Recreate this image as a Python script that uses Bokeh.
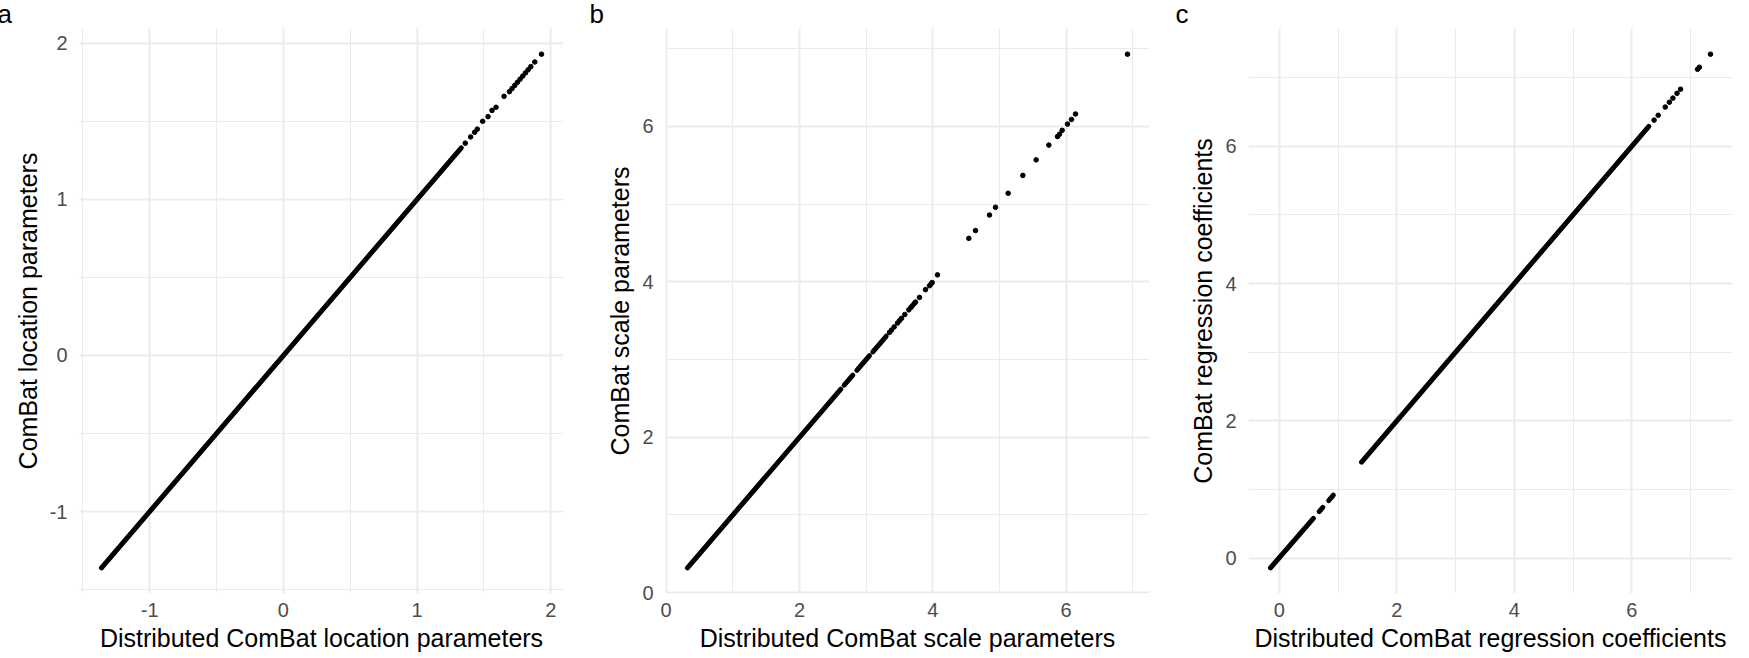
from bokeh.plotting import figure
from bokeh.layouts import row
from bokeh.models import Range1d, FixedTicker
from bokeh.embed import file_html
from bokeh.resources import INLINE

# ---------------- data ----------------
# Panel a: location parameters (dense run drawn as a thick stroke, sparse points as dots)
a_run_x0 = [-1.36]
a_run_x1 = [1.33]
a_run_y0 = [-1.36]
a_run_y1 = [1.33]
a_dot_x = [1.36, 1.40, 1.43, 1.45, 1.49, 1.53, 1.56, 1.59, 1.65, 1.69, 1.71,
           1.73, 1.75, 1.77, 1.79, 1.81, 1.83, 1.85, 1.88, 1.93]
a_dot_y = [1.36, 1.40, 1.43, 1.45, 1.50, 1.53, 1.57, 1.59, 1.66, 1.69, 1.71,
           1.73, 1.75, 1.77, 1.79, 1.81, 1.83, 1.85, 1.88, 1.93]

# Panel b: scale parameters
b_run_x0 = [0.32, 2.67, 2.86, 3.10]
b_run_x1 = [2.62, 2.80, 3.05, 3.30]
b_run_y0 = [0.32, 2.67, 2.86, 3.10]
b_run_y1 = [2.62, 2.80, 3.05, 3.30]
b_dot_x = [3.35, 3.38, 3.42, 3.47, 3.50, 3.53, 3.58, 3.64, 3.67, 3.69, 3.72,
           3.74, 3.80, 3.89, 3.95, 3.97, 3.99, 4.07, 4.54, 4.64, 4.85, 4.94,
           5.13, 5.35, 5.55, 5.74, 5.87, 5.90, 5.94, 6.02, 6.08, 6.14, 6.92]
b_dot_y = [3.35, 3.38, 3.42, 3.47, 3.50, 3.53, 3.58, 3.64, 3.67, 3.69, 3.72,
           3.74, 3.80, 3.90, 3.95, 3.97, 3.99, 4.09, 4.56, 4.66, 4.86, 4.96,
           5.14, 5.37, 5.57, 5.76, 5.87, 5.90, 5.95, 6.03, 6.09, 6.16, 6.93]

# Panel c: regression coefficients
c_run_x0 = [-0.15, 0.68, 0.84, 1.40]
c_run_x1 = [0.58, 0.74, 0.92, 6.29]
c_run_y0 = [-0.14, 0.68, 0.84, 1.40]
c_run_y1 = [0.58, 0.74, 0.92, 6.29]
c_dot_x = [6.38, 6.45, 6.57, 6.64, 6.70, 6.77, 6.83, 7.12, 7.15, 7.34]
c_dot_y = [6.38, 6.45, 6.57, 6.64, 6.70, 6.77, 6.83, 7.12, 7.15, 7.34]

a_major = [-1, 0, 1, 2]
a_minor = [-1.5, -0.5, 0.5, 1.5]
bc_major = [0, 2, 4, 6]
bc_minor = [1, 3, 5, 7]

panel_letters = ["a", "b", "c"]
x_titles = ["Distributed ComBat location parameters",
            "Distributed ComBat scale parameters",
            "Distributed ComBat regression coefficients"]
y_titles = ["ComBat location parameters",
            "ComBat scale parameters",
            "ComBat regression coefficients"]

FONT = "Liberation Sans"
GRID = "#EBEBEB"


def expanded(vals, frac=0.05):
    lo, hi = min(vals), max(vals)
    pad = (hi - lo) * frac
    return lo - pad, hi + pad


def panel(letter, xt, yt, rx0, rx1, ry0, ry1, dx, dy, major, minor,
          width, left, right, letter_x, ytitle_gap):
    top, bottom, height = 27, 58, 658
    xs = list(rx0) + list(rx1) + list(dx)
    ys = list(ry0) + list(ry1) + list(dy)
    xlo, xhi = expanded(xs)
    ylo, yhi = expanded(ys)
    p = figure(width=width, height=height, output_backend="svg",
               toolbar_location=None, x_range=Range1d(xlo, xhi),
               y_range=Range1d(ylo, yhi),
               min_border_left=left, min_border_right=right,
               min_border_top=top, min_border_bottom=bottom,
               title=letter, title_location="above")
    p.title.align = "left"
    p.title.offset = letter_x - left
    p.title.standoff = 0
    p.title.text_font = FONT
    p.title.text_font_size = "26px"
    p.title.text_font_style = "normal"
    p.title.text_color = "black"
    p.outline_line_color = None
    p.background_fill_color = "white"
    p.border_fill_color = "white"
    overrides = {t: str(t) for t in major}
    for ax in (p.xaxis[0], p.yaxis[0]):
        ax.ticker = FixedTicker(ticks=major, minor_ticks=minor)
        ax.major_label_overrides = overrides
        ax.axis_line_color = None
        ax.major_tick_line_color = None
        ax.minor_tick_line_color = None
        ax.major_tick_out = 0
        ax.major_tick_in = 0
        ax.minor_tick_out = 0
        ax.minor_tick_in = 0
        ax.major_label_text_font = FONT
        ax.major_label_text_font_size = "20px"
        ax.major_label_text_color = "#4D4D4D"
        ax.axis_label_text_font = FONT
        ax.axis_label_text_font_size = "25px"
        ax.axis_label_text_font_style = "normal"
        ax.axis_label_text_color = "black"
    p.xaxis.axis_label = xt
    p.yaxis.axis_label = yt
    p.xaxis.major_label_standoff = 9
    p.xaxis.axis_label_standoff = 4
    p.yaxis.major_label_standoff = 12
    p.yaxis.axis_label_standoff = ytitle_gap
    for g in (p.xgrid[0], p.ygrid[0]):
        g.grid_line_color = GRID
        g.grid_line_width = 2
        g.minor_grid_line_color = GRID
        g.minor_grid_line_width = 1
    p.segment(x0=rx0, y0=ry0, x1=rx1, y1=ry1, line_color="black",
              line_width=5, line_cap="round")
    p.scatter(x=dx, y=dy, size=4.6, color="black")
    return p


pa = panel(panel_letters[0], x_titles[0], y_titles[0], a_run_x0, a_run_x1,
           a_run_y0, a_run_y1, a_dot_x, a_dot_y, a_major, a_minor,
           580, 83, 13, 1, 5)
pb = panel(panel_letters[1], x_titles[1], y_titles[1], b_run_x0, b_run_x1,
           b_run_y0, b_run_y1, b_dot_x, b_dot_y, bc_major, bc_minor,
           580, 89, 7, 13, 5)
pc = panel(panel_letters[2], x_titles[2], y_titles[2], c_run_x0, c_run_x1,
           c_run_y0, c_run_y1, c_dot_x, c_dot_y, bc_major, bc_minor,
           589, 92, 13, 19, 5)

layout = row(pa, pb, pc, styles={"margin-left": "-4px", "margin-top": "-4px",
                                 "margin-bottom": "-4px"})

open("out.html", "w").write(file_html(layout, INLINE))
